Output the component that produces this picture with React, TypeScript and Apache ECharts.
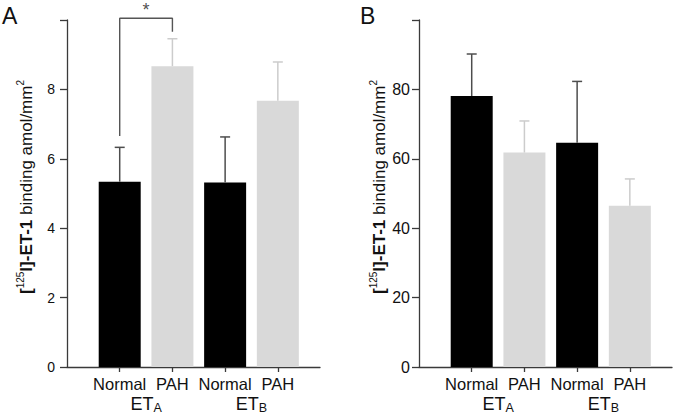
import React, { useEffect, useRef } from "react";
import * as echarts from "echarts";

const FONT = "'Liberation Sans', Arial, Helvetica, sans-serif";

const categories = ["Normal", "PAH", "Normal", "PAH"];
const receptorSubs = ["A", "B"];
const receptorPos = [0.5, 2.5];
const positions = [0, 1, 2, 3];

// Panel A: [125I]-ET-1 binding (amol/mm2)
const meanA = [5.34, 8.67, 5.32, 7.67];
const errA = [0.99, 0.79, 1.31, 1.12];
// Panel B
const meanB = [78.1, 61.8, 64.6, 46.5];
const errB = [12.1, 9.1, 17.7, 7.7];

// significance bracket in panel A (Normal ETA vs PAH ETA)
const bracketX = [0, 0, 1, 1];
const bracketY = [6.66, 10.05, 10.05, 9.66];
const starPoint = [0.5, 10.05];

const AXIS_COLOR = "#3a3a3a";
const BLACK = "#000000";
const GREY = "#d9d9d9";

function buildPanel(gi: number, mean: number[], err: number[], max: number, interval: number, tickFont: number, tickMargin: number) {
  const xMain = {
    gridIndex: gi,
    type: "value",
    min: -1,
    max: 3.8,
    axisLine: { show: true, onZero: false, lineStyle: { color: AXIS_COLOR, width: 1.3 } },
    axisTick: { show: true, customValues: positions, length: 5, lineStyle: { color: AXIS_COLOR, width: 1.3 } },
    axisLabel: {
      customValues: positions,
      formatter: (v: number) => categories[Math.round(v)] ?? "",
      fontSize: 16.5,
      margin: 8,
      color: "#111",
      fontFamily: FONT,
    },
    splitLine: { show: false },
  };
  const xGroup = {
    gridIndex: gi,
    type: "value",
    position: "bottom",
    min: -1,
    max: 3.8,
    axisLine: { show: false },
    axisTick: { show: false },
    splitLine: { show: false },
    axisLabel: {
      customValues: receptorPos,
      formatter: (v: number) => `{m|ET}{s|${receptorSubs[receptorPos.indexOf(v)] ?? ""}}`,
      margin: 27,
      rich: {
        m: { fontSize: 18, fontFamily: FONT, color: "#111", lineHeight: 20 },
        s: { fontSize: 12.5, fontFamily: FONT, color: "#111", verticalAlign: "bottom", lineHeight: 20, padding: [8, 0, 0, 0] },
      },
    },
  };
  const y = {
    gridIndex: gi,
    type: "value",
    min: 0,
    max,
    interval,
    axisLine: { show: true, onZero: false, lineStyle: { color: AXIS_COLOR, width: 1.3 } },
    axisTick: { show: true, length: 7, lineStyle: { color: AXIS_COLOR, width: 1.3 } },
    axisLabel: {
      formatter: (v: number) => (v === max ? "" : String(v)),
      fontSize: tickFont,
      margin: tickMargin,
      color: "#111",
      fontFamily: FONT,
    },
    splitLine: { show: false },
  };
  const xi = gi * 2;
  const series: any[] = [
    {
      type: "bar",
      xAxisIndex: xi,
      yAxisIndex: gi,
      barWidth: 42,
      barGap: "-100%",
      itemStyle: { color: BLACK },
      data: positions.filter((i) => i % 2 === 0).map((i) => [i, mean[i]]),
      z: 2,
    },
    {
      type: "bar",
      xAxisIndex: xi,
      yAxisIndex: gi,
      barWidth: 42,
      barGap: "-100%",
      itemStyle: { color: GREY },
      data: positions.filter((i) => i % 2 === 1).map((i) => [i, mean[i]]),
      z: 2,
    },
    {
      type: "custom",
      xAxisIndex: xi,
      yAxisIndex: gi,
      z: 3,
      clip: false,
      data: positions.map((i) => [i, mean[i], err[i]]),
      renderItem: (params: any, api: any) => {
        const x = api.value(0);
        const m = api.value(1);
        const e = api.value(2);
        const base = api.coord([x, m]);
        const top = api.coord([x, m + e]);
        const color = Math.round(x) % 2 === 0 ? "#4d4d4d" : "#cccccc";
        const style = { stroke: color, lineWidth: 1.5 };
        return {
          type: "group",
          children: [
            { type: "line", shape: { x1: base[0], y1: base[1], x2: top[0], y2: top[1] }, style },
            { type: "line", shape: { x1: top[0] - 5, y1: top[1], x2: top[0] + 5, y2: top[1] }, style },
          ],
        };
      },
    },
  ];
  return { xAxes: [xMain, xGroup], y, series };
}

export default function App() {
  const ref = useRef<HTMLDivElement>(null);
  useEffect(() => {
    document.body.style.margin = "0";
    if (!ref.current) return;
    const chart = echarts.init(ref.current, undefined, { renderer: "svg" });
    const a = buildPanel(0, meanA, errA, 10, 2, 14, 12);
    const b = buildPanel(1, meanB, errB, 100, 20, 16, 9);

    const titleRich = (size: number) => ({
      b: { fontSize: size, fontWeight: "bold", fontFamily: FONT, fill: "#111", lineHeight: size + 4 },
      n: { fontSize: size, fontFamily: FONT, fill: "#111", lineHeight: size + 4 },
      sup: { fontSize: Math.round(size * 0.6), fontFamily: FONT, fill: "#111", verticalAlign: "top", lineHeight: size + 4, padding: [0, 0, 6, 0] },
    });
    const titleText = "{b|[}{sup|125}{b|I]-ET-1}{n| binding amol/mm}{sup|2}";

    const option: any = {
      animation: false,
      backgroundColor: "#ffffff",
      grid: [
        { left: 67, top: 20, width: 253, height: 347 },
        { left: 419, top: 20, width: 253, height: 347 },
      ],
      xAxis: [...a.xAxes, ...b.xAxes],
      yAxis: [a.y, b.y],
      series: [
        ...a.series,
        ...b.series,
        {
          type: "line",
          xAxisIndex: 0,
          yAxisIndex: 0,
          data: bracketX.map((x, i) => [x, bracketY[i]]),
          symbol: "none",
          clip: false,
          lineStyle: { color: "#555555", width: 1.4 },
          z: 4,
        },
        {
          type: "scatter",
          xAxisIndex: 0,
          yAxisIndex: 0,
          data: [starPoint],
          symbolSize: 0,
          clip: false,
          label: {
            show: true,
            formatter: "*",
            position: "top",
            distance: -1,
            fontSize: 18,
            lineHeight: 18,
            color: "#222",
            fontFamily: FONT,
          },
          z: 4,
        },
      ],
      graphic: [
        { type: "text", left: 2, top: 4, style: { text: "A", fontSize: 23, fontFamily: FONT, fill: "#111" } },
        { type: "text", left: 360, top: 4, style: { text: "B", fontSize: 23, fontFamily: FONT, fill: "#111" } },
        {
          type: "text",
          x: 26,
          y: 187,
          rotation: Math.PI / 2,
          style: { text: titleText, rich: titleRich(17), align: "center", verticalAlign: "middle" },
        },
        {
          type: "text",
          x: 379,
          y: 187,
          rotation: Math.PI / 2,
          style: { text: titleText, rich: titleRich(17), align: "center", verticalAlign: "middle" },
        },
      ],
    };
    chart.setOption(option);
    return () => chart.dispose();
  }, []);
  return <div ref={ref} style={{ width: 675, height: 418 }} />;
}
